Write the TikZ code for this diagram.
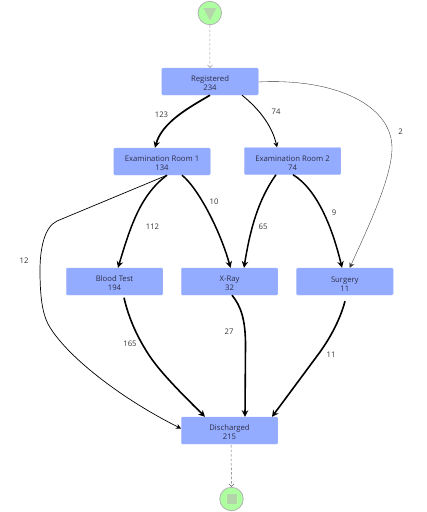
\documentclass[tikz,border=0pt]{standalone}
\usepackage{fontspec}
\setmainfont{Open Sans}
\usetikzlibrary{shapes.geometric, arrows.meta, positioning}
\definecolor{activityblue}{RGB}{148,172,255}
\definecolor{eventgreen}{RGB}{173,255,160}
\definecolor{eventgray}{RGB}{180,212,170}
\definecolor{labelink}{RGB}{45,45,70}
\tikzset{
  activity/.style={rectangle, rounded corners=1.2pt, fill=activityblue, draw=activityblue!85!white, line width=0.4pt, minimum width=96.5pt, minimum height=27pt, inner sep=0pt, align=center, text=labelink, font=\fontsize{7.7}{9}\selectfont, text height=19pt},
  event/.style={circle, fill=eventgreen, draw=black!30, line width=0.8pt, minimum size=23.5pt, inner sep=0pt},
  count/.style={font=\fontsize{7.7}{9}\selectfont, text=black!80},
  flow/.style={-{Stealth[length=6.5pt, width=6.5pt]}, black},
  thinflow/.style={-{Stealth[length=5pt, width=5pt]}, black},
  idle/.style={-{Straight Barb[length=2.5pt, width=5pt]}, dashed, dash pattern=on 2.5pt off 2pt, black!40, line width=0.5pt}
}
\begin{document}
\begin{tikzpicture}[x=1pt, y=-1pt]
  \useasboundingbox (0,0) rectangle (427,512);
  % Start and end events
  \node[event] (start) at (209.8,13) {};
  \node[event] (end) at (231.5,499) {};
  \fill[eventgray] (203.5,8) -- (216.5,8) -- (210,20.5) -- cycle;
  \fill[eventgray] (226.5,494) rectangle (236.5,504);
  % Activities
  \node[activity] (registered) at (210,81.5) {Registered\\234};
  \node[activity] (exam1) at (162,161.5) {Examination Room 1\\134};
  \node[activity] (exam2) at (292.5,161) {Examination Room 2\\74};
  \node[activity] (blood) at (114.5,281.5) {Blood Test\\194};
  \node[activity] (xray) at (229.5,281.5) {X-Ray\\32};
  \node[activity] (surgery) at (344.8,281.5) {Surgery\\11};
  \node[activity] (discharged) at (229.5,430.5) {Discharged\\215};
  % Dashed links
  \draw[idle] (start.south) -- (registered.north);
  \draw[idle, black!60] ([xshift=1.5pt,yshift=-1pt]discharged.south) -- (end.north);
  % Flows out of Registered
  \draw[flow, line width=1.7pt] (registered.south) .. controls (190,107) and (162,122) .. ([xshift=-7pt]exam1.north);
  \draw[thinflow, line width=0.9pt] ([xshift=32pt]registered.south) .. controls (258,108) and (272,125) .. ([xshift=-15.5pt]exam2.north);
  \draw[thinflow, line width=0.35pt, black!80] ([yshift=-0.5pt]registered.east) .. controls (335,78) and (392,105) .. (392,148) .. controls (392,180) and (362,240) .. ([xshift=5pt]surgery.north);
  % Flows out of Examination Room 1
  \draw[thinflow, line width=0.7pt] ([xshift=5pt]exam1.south) -- (57,221) .. controls (44,227) and (40,250) .. (40,270) .. controls (40,295) and (42,312) .. (48,324) .. controls (65,355) and (120,398) .. ([yshift=2pt]discharged.west);
  \draw[flow, line width=1.5pt] ([xshift=5pt]exam1.south) .. controls (140,195) and (130,228) .. ([xshift=3.5pt]blood.north);
  \draw[flow, line width=1.5pt] ([xshift=20pt]exam1.south) .. controls (198,188) and (220,230) .. ([xshift=1pt]xray.north);
  % Flows out of Examination Room 2
  \draw[flow, line width=1.5pt] ([xshift=-16.5pt]exam2.south) .. controls (258,200) and (250,230) .. ([xshift=14.5pt]xray.north);
  \draw[flow, line width=1.5pt] ([xshift=0.5pt]exam2.south) .. controls (318,190) and (333,230) .. ([xshift=-2.8pt]surgery.north);
  % Flows into Discharged
  \draw[flow, line width=1.6pt] ([xshift=9.5pt,yshift=-2.5pt]blood.south) .. controls (128,315) and (135,333) .. (147,352) .. controls (158,370) and (180,392) .. ([xshift=-24.5pt]discharged.north);
  \draw[flow, line width=1.6pt] ([xshift=2.5pt]xray.south) .. controls (241,306) and (245.5,320) .. (245.5,345) -- ([xshift=15.5pt]discharged.north);
  \draw[flow, line width=1.6pt] ([xshift=0.2pt,yshift=-6pt]surgery.south) .. controls (340,320) and (330,338) .. (320,352) -- ([xshift=42.5pt]discharged.north);
  % Counts
  \node[count] (lab123) at (161.5,115) {123};
  \node[count] (lab74) at (276,112) {74};
  \node[count] (lab2) at (400.5,132) {2};
  \node[count] (lab112) at (152.5,227) {112};
  \node[count] (lab10) at (214,201.5) {10};
  \node[count] (lab65) at (263,227) {65};
  \node[count] (lab9) at (334,213) {9};
  \node[count] (lab12) at (24,261) {12};
  \node[count] (lab165) at (130,344) {165};
  \node[count] (lab27) at (229,332) {27};
  \node[count] (lab11) at (331,355) {11};
\end{tikzpicture}
\end{document}
